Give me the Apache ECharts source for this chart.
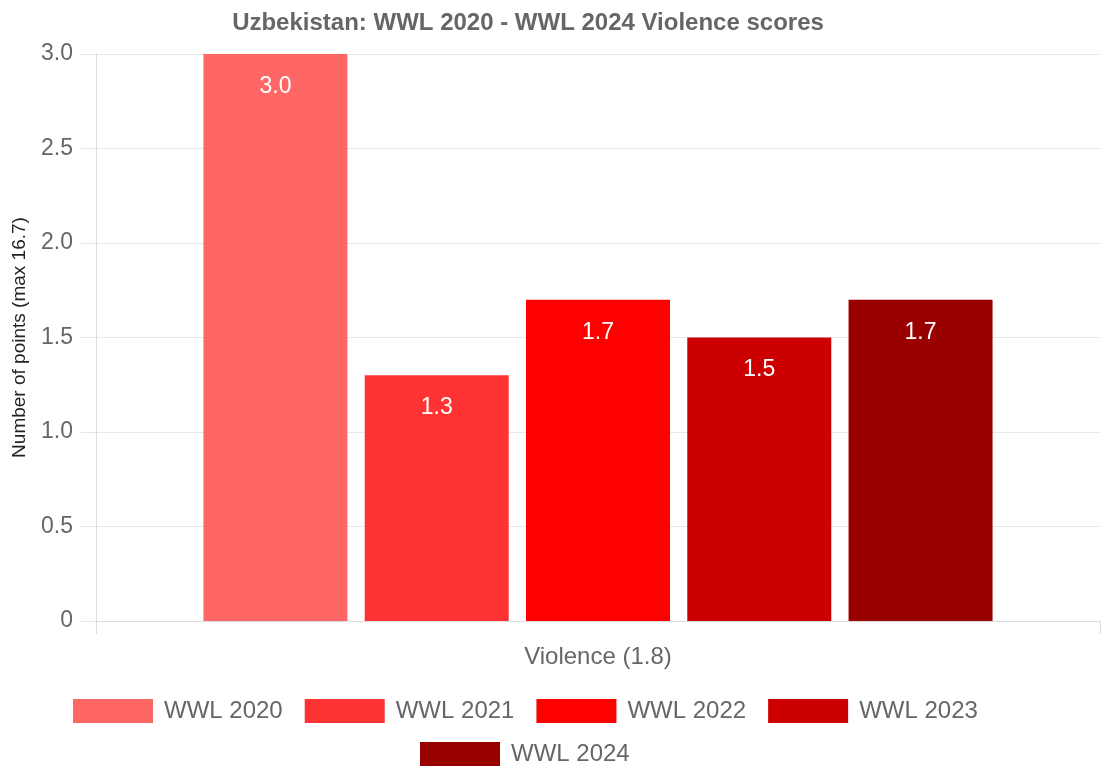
<!DOCTYPE html>
<html>
<head>
<meta charset="utf-8">
<script src="https://cdn.jsdelivr.net/npm/echarts@6/dist/echarts.min.js"></script>
<style>
  html, body { margin: 0; padding: 0; background: #fff; }
  #chart { width: 1102px; height: 766px; }
</style>
</head>
<body>
<div id="chart"></div>
<script>
    // chart data
    let categories = ['Violence (1.8)'];
    let seriesNames = ['WWL 2020', 'WWL 2021', 'WWL 2022', 'WWL 2023', 'WWL 2024'];
    let seriesValues = [3.0, 1.3, 1.7, 1.5, 1.7];
    let seriesColors = ['#ff6666', '#ff3333', '#ff0000', '#cc0000', '#990000'];
    let yTicks = [0, 0.5, 1.0, 1.5, 2.0, 2.5, 3.0];

    let chart = echarts.init(document.getElementById('chart'));
    let font = '"Liberation Sans", Arial, sans-serif';

    let series = seriesNames.map(function (name, i) {
        return {
            name: name,
            type: 'bar',
            data: [seriesValues[i]],
            barWidth: 144,
            barGap: '12%',
            itemStyle: { color: seriesColors[i] },
            label: {
                show: true,
                position: 'insideTop',
                distance: 21,
                color: '#fff',
                fontFamily: font,
                fontSize: 23,
                formatter: function (p) { return p.value.toFixed(1); }
            }
        };
    });

    // legend is split in two centred rows, like the original
    let legendBase = {
        orient: 'horizontal',
        padding: 0,
        itemWidth: 80,
        itemHeight: 24,
        itemGap: 22,
        icon: 'rect',
        textStyle: { color: '#666', fontSize: 24, fontFamily: font, padding: [0, 0, 0, 6] }
    };

    let option = {
        animation: false,
        textStyle: { fontFamily: font },
        title: {
            text: 'Uzbekistan: WWL 2020 - WWL 2024 Violence scores',
            left: 523,
            top: 6,
            textAlign: 'center',
            textStyle: { color: '#666', fontSize: 24, fontWeight: 'bold', fontFamily: font }
        },
        legend: [
            Object.assign({}, legendBase, { data: seriesNames.slice(0, 4), left: 73, top: 699 }),
            Object.assign({}, legendBase, { data: seriesNames.slice(4), left: 420, top: 742 })
        ],
        grid: { left: 96, right: 2, top: 54, bottom: 145, containLabel: false, outerBoundsMode: 'none' },
        xAxis: {
            type: 'category',
            data: categories,
            axisLine: { show: true, lineStyle: { color: '#ddd' } },
            axisTick: { show: true, length: 13, lineStyle: { color: '#ddd' } },
            axisLabel: { color: '#666', fontSize: 24, margin: 24, fontFamily: font },
            splitLine: { show: false }
        },
        yAxis: {
            type: 'value',
            min: yTicks[0],
            max: yTicks[yTicks.length - 1],
            interval: 0.5,
            name: 'Number of points (max 16.7)',
            nameLocation: 'middle',
            nameGap: 67,
            nameTextStyle: { color: '#222', fontSize: 19, fontFamily: font },
            axisLine: { show: true, lineStyle: { color: '#ddd' } },
            axisTick: { show: true, length: 15, lineStyle: { color: '#e5e5e5' } },
            axisLabel: {
                color: '#666',
                fontSize: 23,
                margin: 23,
                fontFamily: font,
                formatter: function (v) { return v === 0 ? '0' : v.toFixed(1); }
            },
            splitLine: { lineStyle: { color: '#e8e8e8' } }
        },
        series: series
    };

    chart.setOption(option);
</script>
</body>
</html>
